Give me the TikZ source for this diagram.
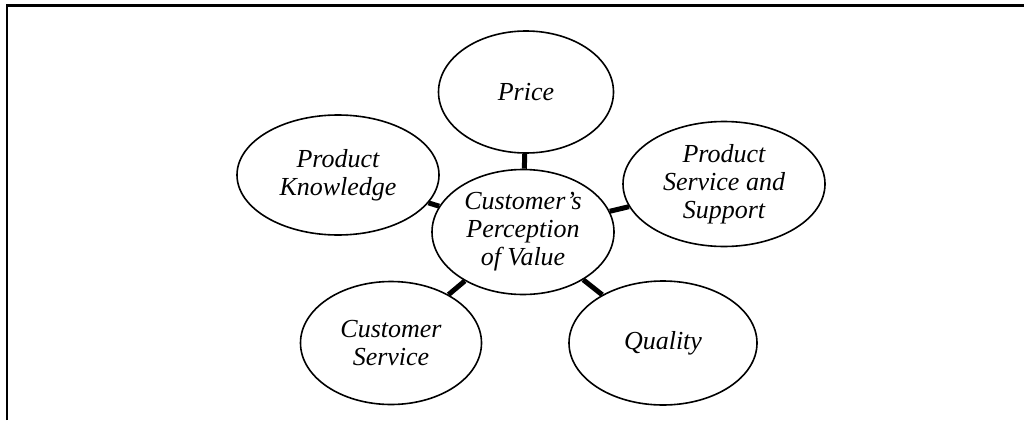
\documentclass[tikz,border=0pt]{standalone}
\usepackage{fontspec}
\setmainfont{Liberation Serif}
\usetikzlibrary{shapes.geometric}
\begin{document}
\begin{tikzpicture}[x=1pt,y=-1pt,
  bub/.style={ellipse,draw,line width=1.6pt,inner sep=0pt,align=center,
    font=\fontsize{26}{28}\selectfont\itshape},
  link/.style={line width=5pt}]
\useasboundingbox (0,0) rectangle (1024,420);
\draw[line width=2.5pt] (7,420) -- (7,5.5) -- (1024,5.5);
\node[bub,minimum width=182pt,minimum height=125pt] (c) at (523,232) {Customer\symbol{39}s\\Perception\\of Value};
\node[bub,minimum width=175pt,minimum height=122pt] (p) at (526,92) {Price};
\node[bub,minimum width=202pt,minimum height=120pt] (k) at (338,175) {Product\\Knowledge};
\node[bub,minimum width=202pt,minimum height=125pt] (s) at (724,184) {Product\\Service and\\Support};
\node[bub,minimum width=181pt,minimum height=123pt] (cs) at (391,343) {Customer\\Service};
\node[bub,minimum width=188pt,minimum height=124pt] (q) at (663,343) {Quality};
\draw[link] (c) -- (p);
\draw[link] (c) -- (k);
\draw[link] (c) -- (s);
\draw[link] (c) -- (cs);
\draw[link] (c) -- (q);
\end{tikzpicture}
\end{document}
